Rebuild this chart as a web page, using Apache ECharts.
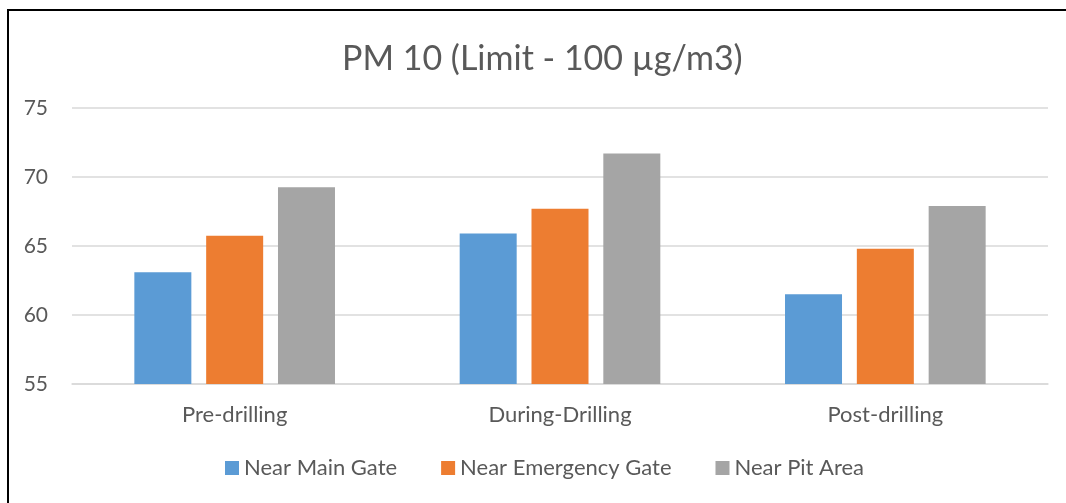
<!DOCTYPE html>
<html>
<head>
<meta charset="utf-8">
<script src="https://cdn.jsdelivr.net/npm/echarts@6/dist/echarts.min.js"></script>
<style>
html,body{margin:0;padding:0;background:#fff;}
#frame{position:absolute;left:7px;top:9px;width:1059px;height:494px;border-left:2px solid #000;border-top:2px solid #000;box-sizing:border-box;}
#chart{position:absolute;left:0;top:0;width:1066px;height:503px;}
</style>
</head>
<body>
<div id="frame"></div>
<div id="chart"></div>
<script>
const categories = ['Pre-drilling', 'During-Drilling', 'Post-drilling'];
const seriesNames = ['Near Main Gate', 'Near Emergency Gate', 'Near Pit Area'];
const nearMainGate = [63.1, 65.9, 61.5];
const nearEmergencyGate = [65.75, 67.7, 64.8];
const nearPitArea = [69.25, 71.7, 67.9];
const yTicks = [55, 60, 65, 70, 75];
const colors = ['#5B9BD5', '#ED7D31', '#A5A5A5'];

const font = 'Lato, "Open Sans", sans-serif';
const chart = echarts.init(document.getElementById('chart'));
const dataSets = [nearMainGate, nearEmergencyGate, nearPitArea];
chart.setOption({
  animation: false,
  color: colors,
  title: {
    text: 'PM 10 (Limit - 100 µg/m3)',
    left: 337,
    top: 37,
    textStyle: {fontFamily: font, fontSize: 34, fontWeight: 'normal', color: '#595959'}
  },
  legend: {
    top: 452,
    left: 220,
    itemWidth: 14,
    itemHeight: 14,
    itemGap: 44,
    icon: 'rect',
    textStyle: {fontFamily: font, fontSize: 22, color: '#595959'},
    data: seriesNames
  },
  grid: {left: 72, right: 18, top: 108, bottom: 119, containLabel: false},
  xAxis: {
    type: 'category',
    data: categories,
    axisLine: {lineStyle: {color: '#D9D9D9', width: 1.5}},
    axisTick: {show: false},
    axisLabel: {fontFamily: font, fontSize: 22, color: '#595959', margin: 20}
  },
  yAxis: {
    type: 'value',
    min: yTicks[0],
    max: yTicks[yTicks.length - 1],
    interval: 5,
    axisLine: {show: false},
    axisTick: {show: false},
    splitLine: {lineStyle: {color: '#D9D9D9', width: 1.5}},
    axisLabel: {fontFamily: font, fontSize: 21, color: '#595959', margin: 24}
  },
  series: seriesNames.map((n, i) => ({
    name: n,
    type: 'bar',
    data: dataSets[i],
    barWidth: 57,
    barGap: '26%',
    itemStyle: {color: colors[i]}
  }))
});
</script>
</body>
</html>
